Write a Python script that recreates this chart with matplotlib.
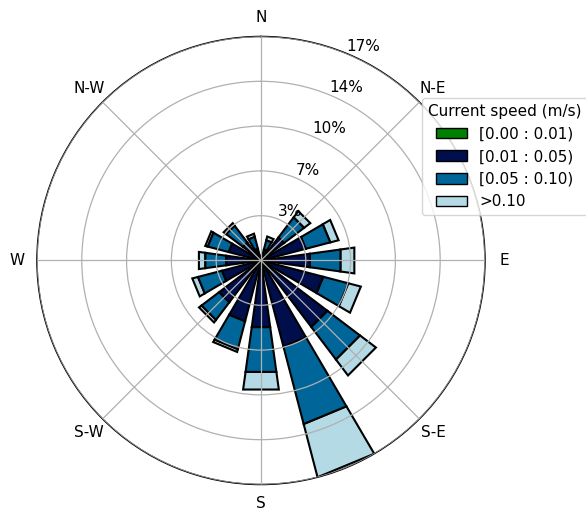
import numpy as np
import matplotlib
matplotlib.use("Agg")
import matplotlib.pyplot as plt
from matplotlib.patches import Rectangle, Patch

# 16 sectors, clockwise from north (degrees)
directions = np.arange(0, 360, 22.5)
# frequency (%) per speed class and sector: N, NNE, NE, ... NNW
freq_0_001 = [0.03, 0.03, 0.03, 0.03, 0.03, 0.03, 0.03, 0.03,
              0.03, 0.03, 0.03, 0.03, 0.03, 0.03, 0.03, 0.03]
freq_001_005 = [0.30, 0.85, 2.19, 3.53, 3.76, 4.92, 6.38, 6.81,
                5.14, 4.80, 4.00, 3.07, 2.66, 2.53, 1.70, 0.90]
freq_005_010 = [0.05, 0.73, 1.94, 1.95, 2.38, 1.99, 3.14, 6.16,
                3.48, 2.22, 1.70, 1.91, 1.63, 1.67, 1.62, 0.95]
freq_gt_010 = [0.00, 0.30, 0.60, 0.66, 1.08, 1.00, 1.54, 4.23,
               1.37, 0.22, 0.25, 0.45, 0.50, 0.20, 0.25, 0.25]
speed_labels = ["[0.00 : 0.01)", "[0.01 : 0.05)", "[0.05 : 0.10)", ">0.10"]
dir_labels = ["N", "N-E", "E", "S-E", "S", "S-W", "W", "N-W"]

table = np.array([freq_0_001, freq_001_005, freq_005_010, freq_gt_010])
colors = plt.cm.ocean([0.0, 0.3, 0.6, 0.9])

plt.rcParams["font.size"] = 11
fig = plt.figure(figsize=(5.86, 5.14), dpi=100)
ax = fig.add_axes([0.0631, 0.0574, 0.7645, 0.8716], projection="polar")
ax.set_theta_zero_location("N")
ax.set_theta_direction(-1)

theta = np.deg2rad(directions)
dtheta = 2 * np.pi / len(directions)
opening = dtheta * 0.7
nbins = table.shape[0]
for j in range(len(directions)):
    offset = 0.0
    for i in range(nbins):
        val = table[i, j]
        p = Rectangle((theta[j] - opening / 2, offset), opening, val,
                      facecolor=colors[i], edgecolor="black", linewidth=1.5,
                      zorder=-100 + nbins - i)
        ax.add_patch(p)
        offset += val

rmax = table.sum(axis=0).max()
ax.set_ylim(0, rmax)
radii = np.linspace(0, rmax, 6)[1:]
ax.set_yticks(radii)
ax.set_yticklabels(["%.0f%%" % r for r in radii])
ax.set_rlabel_position(22.5)
ax.set_thetagrids(np.arange(0, 360, 45), dir_labels)
ax.set_axisbelow(False)
ax.grid(True, color="#b0b0b0", linewidth=0.9)
ax.spines["polar"].set_color("black")
ax.spines["polar"].set_linewidth(1.1)

handles = [Patch(facecolor=c, edgecolor="black") for c in colors]
fig.legend(handles, speed_labels, title="Current speed (m/s)",
           loc="upper left", bbox_to_anchor=(0.72, 0.81),
           bbox_transform=fig.transFigure, borderaxespad=0,
           fontsize=11, title_fontsize=11)

fig.savefig("out.png", dpi=100)
